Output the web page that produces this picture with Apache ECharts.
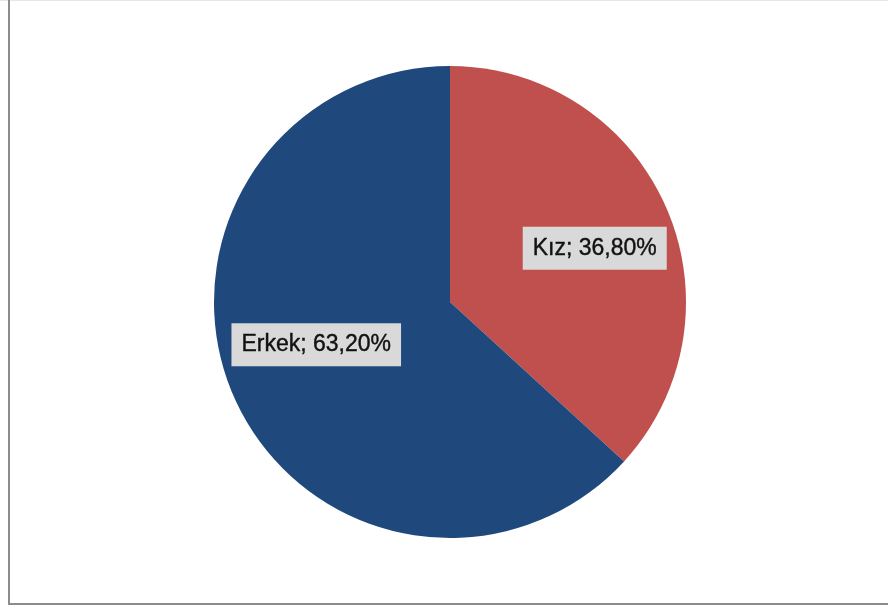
<!DOCTYPE html>
<html>
<head>
<meta charset="utf-8">
<style>
  html, body { margin: 0; padding: 0; background: #ffffff; }
  #chart { width: 888px; height: 610px; }
</style>
<script src="https://cdn.jsdelivr.net/npm/echarts@6/dist/echarts.min.js"></script>
</head>
<body>
<div id="chart"></div>
<script>
// Gender distribution
const categories = ['Kız', 'Erkek'];
const shares = [36.80, 63.20];
const sliceColors = ['#c0504d', '#1f497d'];

// Nudges that move each inside label towards the outer rim
const labelShift = [[34, -5], [-23, -6]];

const chart = echarts.init(document.getElementById('chart'), null, { renderer: 'canvas' });

const pieData = categories.map((name, i) => ({
  name: name,
  value: shares[i],
  itemStyle: { color: sliceColors[i] }
}));

chart.setOption({
  animation: false,
  backgroundColor: '#ffffff',
  graphic: [
    { type: 'line', shape: { x1: 0, y1: 0.5, x2: 888, y2: 0.5 }, style: { stroke: '#e6e6e6', lineWidth: 1 } },
    { type: 'line', shape: { x1: 9, y1: 0, x2: 9, y2: 604 }, style: { stroke: '#8c8c8c', lineWidth: 2 } },
    { type: 'line', shape: { x1: 8, y1: 604, x2: 888, y2: 604 }, style: { stroke: '#8c8c8c', lineWidth: 2 } }
  ],
  series: [{
    type: 'pie',
    center: [450, 302],
    radius: 236,
    startAngle: 90,
    clockwise: true,
    silent: true,
    data: pieData,
    label: {
      show: true,
      position: 'inside',
      formatter: (p) => p.name + '; ' + p.value.toFixed(2).replace('.', ',') + '%',
      fontFamily: '"Liberation Sans Narrow", "Liberation Sans", sans-serif',
      fontSize: 23,
      color: '#111111',
      textBorderColor: '#111111',
      textBorderWidth: 0.4,
      backgroundColor: '#d9d9d9',
      padding: [11, 10, 9, 10]
    },
    labelLine: { show: false },
    labelLayout: (params) => {
      const s = labelShift[params.dataIndex];
      return { dx: s[0], dy: s[1] };
    }
  }]
});
</script>
</body>
</html>
